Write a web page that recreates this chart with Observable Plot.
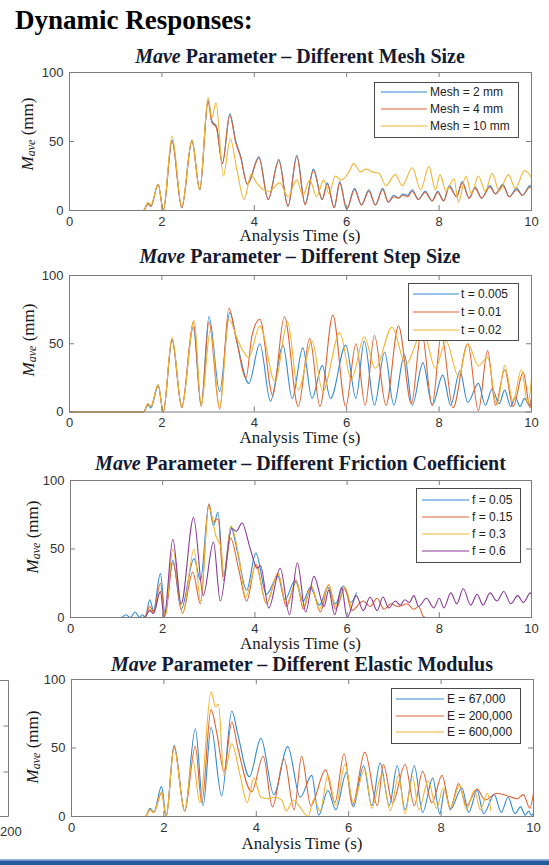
<!DOCTYPE html>
<html><head><meta charset="utf-8">
<script src="https://cdn.jsdelivr.net/npm/d3@7"></script>
<script src="https://cdn.jsdelivr.net/npm/@observablehq/plot@0.6"></script>
<style>
body{margin:0;background:#fff}
#root{position:relative;width:549px;height:865px;overflow:hidden;background:#fff}
#root svg.plt{position:absolute;left:0}
#overlay{position:absolute;left:0;top:0;pointer-events:none}
</style></head><body><div id="root"></div>
<script>
// ---------- data: [time (s), Mave (mm)] ----------
const xTicks = [0, 2, 4, 6, 8, 10];
const yTicks = [0, 50, 100];

// Panel 1 — mesh size
const meshNames = ["Mesh = 2 mm", "Mesh = 4 mm", "Mesh = 10 mm"];
const mesh2 = [[0,0],[1.6,0],[1.7,5],[1.76,3],[1.92,19],[2.03,0],[2.22,51],[2.43,2],[2.65,51],[2.82,15],[3.0,80],[3.08,65],[3.18,61],[3.31,34],[3.47,70],[3.6,50],[3.7,40],[3.85,19],[4.1,39],[4.3,8],[4.53,37],[4.73,3],[4.92,40],[5.1,5],[5.28,30],[5.47,8],[5.58,20],[5.73,2],[5.85,21],[6.0,1],[6.17,16],[6.32,4],[6.48,15],[6.62,4],[6.78,16],[6.9,6],[7.02,11],[7.12,9],[7.22,12],[7.32,11],[7.42,15],[7.55,8],[7.7,14],[7.85,7],[7.97,14],[8.1,7],[8.22,18],[8.38,10],[8.5,21],[8.65,9],[8.78,17],[8.92,9],[9.1,18],[9.22,12],[9.38,19],[9.52,10],[9.68,16],[9.8,11],[9.97,18],[10,17]];
const mesh4 = [[0,0],[1.6,0],[1.7,5],[1.76,3],[1.92,19],[2.03,0],[2.22,50],[2.43,2],[2.65,50],[2.82,15],[3.0,79],[3.08,64],[3.18,60],[3.31,34],[3.47,69],[3.6,49],[3.7,39],[3.85,19],[4.1,38],[4.3,8],[4.53,36],[4.73,3],[4.92,39],[5.1,4],[5.28,29],[5.47,8],[5.58,19],[5.73,2],[5.85,20],[6.0,1],[6.17,15],[6.32,4],[6.48,14],[6.62,4],[6.78,15],[6.9,6],[7.02,10],[7.12,9],[7.22,11],[7.32,10],[7.42,14],[7.55,8],[7.7,13],[7.85,7],[7.97,13],[8.1,7],[8.22,17],[8.38,10],[8.5,20],[8.65,9],[8.78,16],[8.92,9],[9.1,17],[9.22,12],[9.38,18],[9.52,10],[9.68,15],[9.8,11],[9.97,17],[10,16]];
const mesh10 = [[0,0],[1.6,0],[1.7,6],[1.76,4],[1.92,19],[2.03,0],[2.22,54],[2.43,3],[2.65,51],[2.82,15],[3.0,82],[3.08,67],[3.17,78],[3.33,25],[3.48,52],[3.62,30],[3.78,8],[3.93,26],[4.05,20],[4.2,15],[4.32,14],[4.55,20],[4.73,10],[4.92,22],[5.05,11],[5.2,22],[5.35,10],[5.5,22],[5.62,12],[5.75,25],[5.88,22],[6.05,28],[6.15,34],[6.3,28],[6.42,30],[6.55,28],[6.7,27],[6.85,18],[7.05,26],[7.2,18],[7.42,31],[7.6,15],[7.78,32],[7.92,15],[8.02,26],[8.15,14],[8.32,23],[8.42,6],[8.58,25],[8.7,12],[8.85,25],[9.0,14],[9.15,27],[9.3,14],[9.5,26],[9.65,16],[9.85,29],[10,24]];

// Panel 2 — step size
const stepNames = ["t = 0.005", "t = 0.01", "t = 0.02"];
const step005 = [[0,0],[1.6,0],[1.7,5],[1.76,3],[1.92,19],[2.03,0],[2.22,53],[2.43,4],[2.68,62],[2.85,5],[3.02,70],[3.25,15],[3.47,73],[3.62,52],[3.88,21],[4.12,50],[4.35,8],[4.62,49],[4.82,10],[5.05,47],[5.25,10],[5.47,34],[5.65,10],[5.98,49],[6.2,10],[6.38,52],[6.6,5],[6.82,44],[7.02,5],[7.25,42],[7.42,5],[7.65,36],[7.85,5],[8.08,27],[8.25,5],[8.45,30],[8.62,7],[8.85,21],[9.0,5],[9.15,17],[9.3,6],[9.42,16],[9.55,4],[9.65,11],[9.75,4],[9.85,10],[9.95,5],[10,9]];
const step01 = [[0,0],[1.6,0],[1.7,6],[1.76,4],[1.92,20],[2.03,0],[2.22,53],[2.43,3],[2.68,66],[2.85,4],[3.02,66],[3.25,2],[3.45,76],[3.6,55],[3.82,25],[3.95,56],[4.12,68],[4.4,12],[4.65,70],[4.95,4],[5.2,54],[5.42,4],[5.7,71],[5.98,4],[6.2,50],[6.4,5],[6.6,56],[6.85,5],[7.12,63],[7.4,6],[7.62,60],[7.85,5],[8.05,57],[8.3,3],[8.62,50],[8.85,1],[9.05,45],[9.22,5],[9.42,31],[9.6,4],[9.82,29],[9.97,3],[10,12]];
const step02 = [[0,0],[1.6,0],[1.7,6],[1.76,4],[1.92,20],[2.03,0],[2.22,55],[2.43,4],[2.7,67],[2.85,5],[3.05,60],[3.25,3],[3.45,68],[3.65,52],[3.88,40],[4.12,63],[4.45,22],[4.72,66],[4.95,16],[5.25,52],[5.48,15],[5.85,58],[6.1,24],[6.38,55],[6.62,32],[6.98,62],[7.28,35],[7.65,60],[7.92,32],[8.15,52],[8.42,26],[8.62,50],[8.85,34],[9.05,40],[9.25,5],[9.42,34],[9.6,8],[9.78,31],[9.92,6],[10,24]];

// Panel 3 — friction coefficient
const fricNames = ["f = 0.05", "f = 0.15", "f = 0.3", "f = 0.6"];
const fric005 = [[0,0],[1.1,0],[1.2,2],[1.3,0],[1.4,4],[1.5,0],[1.56,2],[1.62,0],[1.72,13],[1.8,5],[1.95,32],[2.05,3],[2.22,42],[2.4,6],[2.68,43],[2.82,27],[3.0,82],[3.1,67],[3.2,77],[3.32,30],[3.48,66],[3.62,48],[3.82,20],[4.02,47],[4.25,17],[4.5,30],[4.65,13],[4.87,27],[5.05,12],[5.2,22],[5.4,9],[5.58,22],[5.75,10],[5.92,23],[6.08,11],[6.2,18]];
const fric015 = [[0,0],[1.6,0],[1.72,8],[1.8,4],[1.95,25],[2.05,1],[2.22,40],[2.43,3],[2.65,33],[2.82,10],[3.0,83],[3.1,70],[3.2,72],[3.32,27],[3.47,58],[3.65,35],[3.82,12],[4.02,39],[4.25,10],[4.5,32],[4.68,8],[4.9,27],[5.05,6],[5.22,23],[5.42,4],[5.6,24],[5.75,6],[5.95,21],[6.1,5],[6.35,12],[6.5,8],[6.65,14],[6.8,6],[6.95,10],[7.1,8],[7.3,10],[7.45,6],[7.55,8],[7.65,1],[7.72,0],[10,0]];
const fric03 = [[0,0],[1.6,0],[1.72,6],[1.8,3],[1.95,19],[2.05,1],[2.22,50],[2.43,3],[2.68,50],[2.82,12],[3.0,81],[3.15,60],[3.27,50],[3.33,30],[3.48,67],[3.65,45],[3.8,15],[4.02,38],[4.25,10],[4.5,32],[4.68,10],[4.9,26],[5.05,8],[5.22,23],[5.4,6],[5.6,24],[5.75,8],[5.95,22],[6.1,5]];
const fric06 = [[0,0],[1.6,0],[1.72,5],[1.8,3],[1.95,19],[2.03,0],[2.22,57],[2.4,10],[2.67,73],[2.88,16],[3.1,55],[3.25,12],[3.5,65],[3.6,63],[3.72,69],[3.9,50],[4.05,36],[4.12,38],[4.3,7],[4.55,36],[4.75,2],[4.92,40],[5.1,4],[5.28,30],[5.5,8],[5.6,20],[5.73,2],[5.88,22],[6.0,0],[6.2,16],[6.35,5],[6.5,15],[6.65,5],[6.78,15],[6.9,7],[7.05,12],[7.15,9],[7.25,13],[7.35,11],[7.45,16],[7.55,8],[7.72,14],[7.88,7],[8.0,14],[8.1,7],[8.25,18],[8.38,10],[8.52,21],[8.68,9],[8.82,17],[8.95,9],[9.1,18],[9.25,12],[9.4,19],[9.55,10],[9.7,16],[9.82,11],[9.98,18],[10,17]];

// Panel 4 — elastic modulus
const elasNames = ["E = 67,000", "E = 200,000", "E = 600,000"];
const e67 = [[0,0],[1.6,0],[1.7,6],[1.78,3],[1.95,22],[2.05,0],[2.22,52],[2.45,4],[2.68,64],[2.85,8],[3.02,65],[3.25,15],[3.47,77],[3.6,60],[3.85,29],[4.1,57],[4.38,16],[4.68,51],[4.95,14],[5.2,30],[5.35,1],[5.55,19],[5.72,5],[5.95,32],[6.1,7],[6.32,37],[6.5,8],[6.68,39],[6.88,8],[7.05,37],[7.22,5],[7.42,37],[7.6,3],[7.82,28],[7.97,2],[8.08,20],[8.2,5],[8.45,21],[8.6,3],[8.78,19],[8.92,2],[9.15,16],[9.3,3],[9.45,14],[9.6,2],[9.72,7],[9.82,1],[9.9,4],[9.95,1],[10,2]];
const e200 = [[0,0],[1.6,0],[1.7,5],[1.78,3],[1.95,17],[2.05,0],[2.22,51],[2.45,4],[2.68,51],[2.82,10],[3.02,78],[3.15,60],[3.3,33],[3.47,69],[3.6,50],[3.9,18],[4.15,44],[4.35,7],[4.6,42],[4.82,5],[4.98,44],[5.18,8],[5.5,34],[5.7,10],[5.9,46],[6.08,8],[6.35,47],[6.62,8],[6.75,38],[6.95,10],[7.22,38],[7.42,8],[7.6,33],[7.8,10],[8.02,30],[8.2,6],[8.38,24],[8.55,8],[8.78,20],[8.95,12],[9.2,17],[9.45,15],[9.65,13],[9.78,16],[9.92,6],[10,17]];
const e600 = [[0,0],[1.6,0],[1.7,5],[1.78,3],[1.95,18],[2.05,0],[2.22,50],[2.45,4],[2.62,42],[2.78,10],[3.02,91],[3.12,80],[3.18,82],[3.3,30],[3.47,53],[3.65,30],[3.8,10],[3.95,28],[4.1,14],[4.25,13],[4.4,14],[4.55,12],[4.65,4],[4.8,12],[4.92,8],[5.12,0],[5.25,13],[5.38,4],[5.55,30],[5.72,8],[5.92,38],[6.1,10],[6.35,35],[6.5,6],[6.72,31],[6.9,4],[7.08,30],[7.22,2],[7.38,29],[7.52,5],[7.72,26],[7.9,6],[8.05,21],[8.2,6],[8.4,23],[8.55,5],[8.72,19],[8.85,5],[9.0,17],[9.08,4]];

// ---------- styling / layout ----------
const BLUE = "#3189d2", RED = "#dd6435", YEL = "#f0b531", PUR = "#8a3b95";
const AX = "#7d7d7d";
const SERIF = "'Liberation Serif', 'Times New Roman', serif";
const SANS = "'Liberation Sans', Arial, Helvetica, sans-serif";

const panels = [
  {sub: "Different Mesh Size", names: meshNames, series: [mesh2, mesh4, mesh10], colors: [BLUE, RED, YEL],
   top: 72, h: 138, left: 69, right: 531, titleY: 63, xlabY: 241, ylab: {x: 33, y: 134},
   leg: {x0: 374, x1: 518, y0: 82, y1: 137, ly: [92, 109, 126], l0: 381, l1: 427, tx: 430}},
  {sub: "Different Step Size", names: stepNames, series: [step005, step01, step02], colors: [BLUE, RED, YEL],
   top: 275, h: 136.5, left: 69, right: 531, titleY: 263, xlabY: 443, ylab: {x: 34, y: 340},
   leg: {x0: 408, x1: 518, y0: 283, y1: 340, ly: [294, 312, 330], l0: 413, l1: 459, tx: 461}},
  {sub: "Different Friction Coefficient", names: fricNames, series: [fric005, fric015, fric03, fric06], colors: [BLUE, RED, YEL, PUR],
   top: 480, h: 137, left: 70, right: 531, titleY: 470, xlabY: 649, ylab: {x: 38, y: 537},
   leg: {x0: 416, x1: 520, y0: 488, y1: 562, ly: [500, 517, 534, 551], l0: 422, l1: 469, tx: 472}},
  {sub: "Different Elastic Modulus", names: elasNames, series: [e67, e200, e600], colors: [BLUE, RED, YEL],
   top: 679, h: 137, left: 71, right: 533, titleY: 671, xlabY: 849, ylab: {x: 38, y: 747},
   leg: {x0: 391, x1: 520, y0: 688, y1: 743, ly: [699, 716, 732], l0: 396, l1: 444, tx: 447}}
];

const root = document.getElementById("root");
const MT = 10, MB = 32;

for (const p of panels) {
  const data = p.series.flatMap((s, i) => s.map(([t, v]) => ({t, v, name: p.names[i]})));
  const fw = p.right - p.left;
  const chart = Plot.plot({
    width: 549, height: p.h + MT + MB,
    marginTop: MT, marginBottom: MB, marginLeft: p.left, marginRight: 549 - p.right,
    style: {background: "transparent", fontFamily: SANS, fontSize: "13px", color: "#333", overflow: "visible"},
    x: {domain: [0, 10], label: null},
    y: {domain: [0, 100], label: null},
    color: {domain: p.names, range: p.colors},
    marks: [
      Plot.line(data, {x: "t", y: "v", z: "name", stroke: "name", curve: "monotone-x", strokeWidth: 1.1}),
      Plot.ruleX(xTicks, {x: d => d, insetTop: p.h - 5, stroke: AX}),
      Plot.ruleX(xTicks, {x: d => d, insetBottom: p.h - 5, stroke: AX}),
      Plot.ruleY(yTicks, {y: d => d, insetRight: fw - 5, stroke: AX}),
      Plot.ruleY(yTicks, {y: d => d, insetLeft: fw - 5, stroke: AX}),
      Plot.frame({stroke: AX}),
      Plot.axisX(xTicks, {tickSize: 0, tickPadding: 6, label: null, fontSize: 13}),
      Plot.axisY(yTicks, {tickSize: 0, tickPadding: 6, label: null, fontSize: 13})
    ]
  });
  chart.classList.add("plt");
  chart.style.top = (p.top - MT) + "px";
  root.appendChild(chart);
}

// ---------- overlay: titles, axis labels, legends ----------
const ov = d3.select(root).append("svg").attr("id", "overlay").attr("width", 549).attr("height", 865);

ov.append("text").attr("x", 15).attr("y", 29).attr("font-family", SERIF).attr("font-weight", "bold")
  .attr("font-size", 27).attr("fill", "#000").text("Dynamic Responses:");

for (const p of panels) {
  const cx = (p.left + p.right) / 2;
  const t = ov.append("text").attr("x", cx).attr("y", p.titleY).attr("text-anchor", "middle")
    .attr("font-family", SERIF).attr("font-weight", "bold").attr("font-size", 20).attr("fill", "#131b33");
  t.append("tspan").attr("font-style", "italic").text("Mave");
  t.append("tspan").text(" Parameter – " + p.sub);

  ov.append("text").attr("x", cx).attr("y", p.xlabY).attr("text-anchor", "middle")
    .attr("font-family", SERIF).attr("font-size", 17).attr("fill", "#1a1a1a").text("Analysis Time (s)");

  const yl = ov.append("text").attr("transform", `translate(${p.ylab.x},${p.ylab.y}) rotate(-90)`)
    .attr("text-anchor", "middle").attr("font-family", SERIF).attr("font-size", 17).attr("fill", "#1a1a1a");
  yl.append("tspan").attr("font-style", "italic").text("M");
  yl.append("tspan").attr("font-style", "italic").attr("font-size", 12).attr("dy", 2).text("ave");
  yl.append("tspan").attr("dy", -2).text(" (mm)");

  const L = p.leg;
  ov.append("rect").attr("x", L.x0 + 0.5).attr("y", L.y0 + 0.5).attr("width", L.x1 - L.x0).attr("height", L.y1 - L.y0)
    .attr("fill", "#fff").attr("stroke", "#4a4a4a").attr("stroke-width", 1);
  p.names.forEach((n, i) => {
    ov.append("line").attr("x1", L.l0).attr("x2", L.l1).attr("y1", L.ly[i]).attr("y2", L.ly[i])
      .attr("stroke", p.colors[i]).attr("stroke-width", 1.2);
    ov.append("text").attr("x", L.tx).attr("y", L.ly[i]).attr("dy", "0.35em")
      .attr("font-family", SANS).attr("font-size", 12).attr("fill", "#222").text(n);
  });
}

// cropped neighbouring axes at lower left and the blue rule at the bottom
ov.append("path").attr("d", "M-2,680.5H8.5V816.5H-2").attr("fill", "none").attr("stroke", AX);
ov.append("path").attr("d", "M8.5,726H3.5M8.5,772H3.5").attr("stroke", AX);
ov.append("text").attr("x", 0).attr("y", 831).attr("dy", "0.35em").attr("text-anchor", "start")
  .attr("font-family", SANS).attr("font-size", 13).attr("fill", "#333").text("200");
ov.append("rect").attr("x", 0).attr("y", 859).attr("width", 549).attr("height", 1.5).attr("fill", "#8fb0da");
ov.append("rect").attr("x", 0).attr("y", 860.5).attr("width", 549).attr("height", 5).attr("fill", "#235b9c");
</script></body></html>
